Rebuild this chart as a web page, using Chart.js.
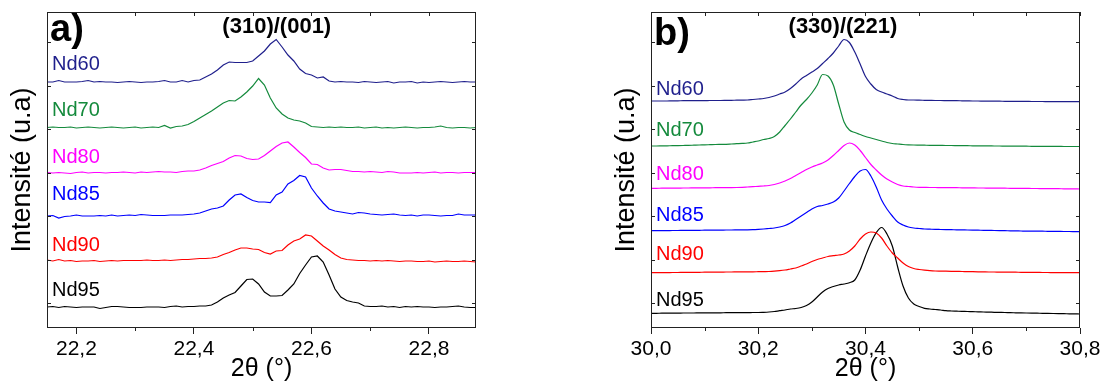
<!DOCTYPE html>
<html>
<head>
<meta charset="utf-8">
<script src="https://cdn.jsdelivr.net/npm/chart.js@4.4.1/dist/chart.umd.min.js"></script>
<style>
  html, body { margin: 0; padding: 0; background: #fff; }
  #wrap { position: relative; width: 1105px; height: 385px; overflow: hidden; }
  #chartA { position: absolute; left: 0; top: 0; }
  #chartB { position: absolute; left: 560px; top: 0; }
</style>
</head>
<body>
<div id="wrap">
  <canvas id="chartA" width="500" height="385"></canvas>
  <canvas id="chartB" width="545" height="385"></canvas>
</div>
<script>
const sampleNames = ['Nd60', 'Nd70', 'Nd80', 'Nd85', 'Nd90', 'Nd95'];
const sampleColors = ['#1f1f8c', '#148a3c', '#ff00ff', '#0000ff', '#ff0000', '#000000'];

// a) (310)/(001) reflection, 2θ sampled every 0.01°
const twoThetaA = Array.from({ length: 74 }, (_, i) => +(22.15 + i * 0.01).toFixed(2));
const nd60A = [246, 246, 247.5, 246, 246, 246, 246.5, 247.5, 246, 246.5, 246, 246, 245.5, 246, 246.5, 246, 245.5, 246, 246, 246.5, 247.5, 246, 246, 247.5, 246,
  247.5, 248, 251, 254, 258, 263, 266, 265.5, 265.5, 265.5, 267, 272, 277, 284, 288.5, 281, 273, 267, 259, 254.5, 253, 250, 251, 247,
  246, 246.5, 246, 246, 245.5, 246.5, 246, 245.5, 246, 246.5, 245, 246, 246, 246.5, 245, 246, 245.5, 246, 246.5, 246, 245.5, 246, 246.5, 246, 246];
const nd70A = [200.5, 201, 200.5, 200.5, 201, 200, 200.5, 201, 200.5, 200, 200.5, 201, 200.5, 200, 200.5, 201, 200, 200.5, 201, 200.5, 202.5, 200, 201.5,
  202, 203.5, 206.5, 210, 213.5, 217, 221, 225, 227.5, 227, 231, 236, 242, 249.5, 243, 230, 220, 214, 210, 208, 207, 205, 201.5,
  201, 200.5, 201, 200.5, 201, 200.5, 200.5, 201, 200, 200.5, 201, 200, 200.5, 200, 200.5, 201, 200.5, 200, 200.5, 200.5, 201, 202, 200.5, 200, 200.5, 200.5, 200, 200.5];
const nd80A = [155.5, 155, 155.5, 155, 154.5, 155.5, 156, 155, 155.5, 155.5, 155, 155.5, 155.5, 156, 155.5, 155, 156, 155.5, 156, 156.5, 156, 156, 155.5,
  156.5, 157, 157, 158, 160, 162.5, 164.5, 166.5, 170, 172.5, 172, 169.5, 168.5, 169, 172.5, 177, 181.5, 185, 186, 181, 175.5, 170.5, 164, 163.5, 160, 158, 158.5, 158.5, 157.5,
  156.5, 156.5, 156, 156.5, 156, 155.5, 156.5, 156, 155, 155, 155, 155.5, 155, 155.5, 156, 155, 155.5, 155.5, 155, 155.5, 155.5, 155.5];
const nd85A = [112, 112.5, 110, 111.5, 112, 113, 112, 112, 112, 112.5, 112, 113, 112, 112.5, 113, 112.5, 113.5, 113, 112.5, 112.5, 112.5, 113, 113, 113, 113.5,
  114, 115, 117, 119, 120, 122, 128, 133, 134, 130.5, 127.5, 126, 126, 125.5, 133, 136, 144, 147.5, 152.5, 151, 140, 132, 125, 119, 117, 116, 115, 114, 115.5, 115,
  114, 113.5, 113, 113.5, 114, 113, 112.5, 113, 112, 113, 113, 112.5, 112, 112.5, 112.5, 114, 113, 113, 113];
const nd90A = [68, 67, 68.5, 67, 67.5, 66.5, 67, 67, 67.5, 66.5, 67, 67.5, 67, 67.5, 67.5, 67.5, 67.5, 68, 67.5, 67.5, 68, 67.5, 68, 68.5, 68.5, 69, 69.5, 69.5, 70,
  71, 73.5, 75.5, 78, 80, 80, 79, 78.5, 75.5, 74, 77, 77.5, 83, 87, 89, 93, 92, 87, 82, 78, 73.5, 70, 68.5,
  68, 67.5, 67.5, 67, 67.5, 67, 67.5, 67, 66.5, 67, 67, 66.5, 66.5, 67, 66, 66.5, 67, 66.5, 66.5, 67, 66.5, 66];
const nd95A = [21, 21.5, 20.5, 21.5, 21, 20.5, 21, 21, 21, 19.5, 20.5, 21.5, 21.5, 21, 20.5, 20.5, 20.5, 21, 21, 21, 20.5, 21.5, 22, 21, 21.5, 21.5, 22, 22, 23,
  26, 30, 33, 35.5, 42, 48.5, 49, 44, 36, 32, 32, 32.5, 38, 44, 54.5, 63, 71, 72, 66, 53, 39, 31, 27.5, 26, 25, 22,
  21.5, 21.5, 22, 21, 21.5, 20.5, 21.5, 21, 21.5, 21, 21, 20.5, 21, 21, 21.5, 22, 21, 20.5, 20.5];

// b) (330)/(221) reflection
const twoThetaB = Array.from({ length: 81 }, (_, i) => +(30 + i * 0.01).toFixed(2));
const nd60B = [227, 227, 227, 227, 227.2, 227.2, 227.3, 227.3, 227.3, 227.4, 227.4, 227.5, 227.5, 227.5, 227.6, 227.7, 227.8, 227.9,
  228, 228.5, 229, 229.5, 230.5, 232, 234, 236, 239.5, 244, 249, 252.5, 256, 259.5, 264.5, 269.5, 275, 282, 288.5, 285.5, 276, 264, 251.5, 244, 238.5, 236, 234, 232, 229.5, 228.5, 228, 228,
  227.8, 227.7, 227.6, 227.5, 227.5, 227.4, 227.3, 227.3, 227.2, 227.1, 227, 227, 226.9, 226.9, 226.8, 226.8, 226.7, 226.7, 226.6, 226.6, 226.6, 226.5, 226.5, 226.5, 226.4, 226.4, 226.4, 226.3, 226.3, 226.3, 226.3];
const nd70B = [182, 182, 182.1, 182.2, 182.3, 182.4, 182.5, 182.6, 182.8, 183, 183.1, 183.3, 183.5, 183.6,
  183.7, 184, 184.3, 184.6, 185, 186, 187, 188.5, 189.5, 191.5, 196, 202.5, 209, 216, 223, 228.5, 235, 243, 253.5, 252, 243, 224, 206, 198, 195.5, 193.5, 191.5, 190, 188.5, 187, 185.5, 184.5, 184, 183.5, 183.2, 183,
  182.9, 182.8, 182.7, 182.7, 182.6, 182.5, 182.5, 182.4, 182.3, 182.3, 182.2, 182.2, 182.1, 182.1, 182, 182, 181.9, 181.9, 181.8, 181.8, 181.8, 181.7, 181.7, 181.7, 181.6, 181.6, 181.6, 181.5, 181.5, 181.5, 181.5];
const nd80B = [139.7, 139.7, 139.8, 139.8, 139.9, 139.9, 140, 140, 140.1, 140.1, 140.2, 140.2, 140.3, 140.3, 140.4, 140.4, 140.5, 140.7, 141, 141.3, 141.7, 142, 142.5,
  143.5, 145, 147, 149.5, 152.5, 155.5, 158.5, 161, 163, 165, 168, 172.5, 177.5, 182.5, 185, 183, 177.5, 170.5, 163.5, 158, 153, 149, 146, 143.5, 142, 141.5, 141, 140.7,
  140.6, 140.5, 140.5, 140.4, 140.4, 140.3, 140.3, 140.2, 140.2, 140.1, 140, 140, 139.9, 139.9, 139.8, 139.8, 139.7, 139.7, 139.6, 139.6, 139.5, 139.5, 139.4, 139.4, 139.3, 139.3, 139.2, 139.2, 139.1, 139];
const nd85B = [97.3, 97.3, 97.4, 97.4, 97.5, 97.5, 97.6, 97.6, 97.7, 97.7, 97.8, 97.8, 97.9, 97.9, 98, 98, 98.1, 98.2, 98.2, 98.3, 98.6, 99, 99.5,
  100, 101, 102.5, 105, 108.5, 112, 115.5, 119, 121.5, 122.5, 124, 126, 130, 137, 144.5, 151.5, 157, 158.5, 152, 141, 128, 119, 112, 106, 103, 101, 100, 99.5, 99,
  98.8, 98.6, 98.5, 98.4, 98.3, 98.2, 98.1, 98, 97.9, 97.8, 97.7, 97.6, 97.5, 97.4, 97.3, 97.2, 97.1, 97, 96.9, 96.9, 96.8, 96.8, 96.7, 96.7, 96.6, 96.5, 96.5, 96.4, 96.3];
const nd90B = [55.3, 55.3, 55.4, 55.4, 55.5, 55.5, 55.6, 55.6, 55.7, 55.7, 55.8, 55.8, 55.9, 55.9, 56, 56, 56.1, 56.1, 56.2, 56.2, 56.3, 56.4, 56.5,
  56.8, 57.3, 58, 59, 60, 62, 64, 66.5, 68.5, 70, 71.5, 72.3, 73, 74, 77, 82, 89, 94, 96, 95, 90, 82, 75, 70, 65, 61.5, 59.5, 58.5, 57.8, 57.3,
  57, 56.9, 56.8, 56.7, 56.6, 56.5, 56.4, 56.3, 56.2, 56.1, 56, 56, 55.9, 55.9, 55.8, 55.8, 55.7, 55.7, 55.6, 55.6, 55.5, 55.5, 55.4, 55.4, 55.4, 55.3, 55.3, 55.3];
const nd95B = [14.7, 14.7, 14.8, 14.8, 14.9, 14.9, 15, 15, 15, 15.1, 15.1, 15.2, 15.2, 15.2, 15.3, 15.3, 15.3, 15.4, 15.4, 15.5, 15.5,
  15.7, 16, 16.5, 17.3, 18, 19, 19.5, 20.5, 22.5, 26, 31, 36, 39.5, 41.5, 43, 44, 45.3, 48, 58, 72, 85, 95.3, 100.5, 94, 82, 61, 42, 30, 24, 21.5, 19.7, 19, 18.5, 18, 17.3,
  17, 16.8, 16.6, 16.5, 16.3, 16.2, 16, 15.9, 15.7, 15.6, 15.5, 15.3, 15.2, 15.1, 15, 14.9, 14.8, 14.7, 14.6, 14.5, 14.4, 14.3, 14.2, 14.1, 14];

// axis ticks
const majorTicksA = [22.2, 22.4, 22.6, 22.8];
const tickLabelsA = ['22,2', '22,4', '22,6', '22,8'];
const minorTicksA = [22.3, 22.5, 22.7];
const majorTicksB = [30.0, 30.2, 30.4, 30.6, 30.8];
const tickLabelsB = ['30,0', '30,2', '30,4', '30,6', '30,8'];
const minorTicksB = [30.1, 30.3, 30.5, 30.7];
const frameTicksY = [25, 68.5, 112, 155.5, 199, 242.5, 286];

// where the sample names sit (intensity units)
const labelYA = [264, 217.5, 171, 134, 82.5, 37.5];
const labelYB = [239, 198, 153.5, 112.5, 73.5, 28];

const FONT = '"Liberation Sans", Arial, sans-serif';
Chart.defaults.font.family = FONT;
Chart.defaults.color = '#000';

const panelDecor = {
  id: 'panelDecor',
  afterDraw(chart, args, opts) {
    const { ctx, chartArea: area } = chart;
    const x = chart.scales.x, y = chart.scales.y;
    ctx.save();

    // frame with inward ticks (top, left, right), short minor ticks below
    ctx.strokeStyle = '#222';
    ctx.lineWidth = 1;
    ctx.strokeRect(area.left + 0.5, area.top + 0.5, area.right - area.left - 1, area.bottom - area.top - 1);
    ctx.beginPath();
    opts.majors.concat(opts.minors).forEach(v => {
      const px = Math.round(x.getPixelForValue(v)) + 0.5;
      ctx.moveTo(px, area.top);
      ctx.lineTo(px, area.top + 4);
    });
    opts.minors.forEach(v => {
      const px = Math.round(x.getPixelForValue(v)) + 0.5;
      ctx.moveTo(px, area.bottom);
      ctx.lineTo(px, area.bottom + 3);
    });
    frameTicksY.forEach(v => {
      const py = Math.round(y.getPixelForValue(v)) + 0.5;
      ctx.moveTo(area.left, py);
      ctx.lineTo(area.left + 4, py);
      ctx.moveTo(area.right, py);
      ctx.lineTo(area.right - 4, py);
    });
    ctx.stroke();

    // sample names
    ctx.font = '20px ' + FONT;
    ctx.textAlign = 'left';
    ctx.textBaseline = 'middle';
    sampleNames.forEach((name, i) => {
      ctx.fillStyle = sampleColors[i];
      ctx.fillText(name, x.getPixelForValue(opts.labelX), y.getPixelForValue(opts.labelY[i]));
    });

    // reflection indices and panel letter
    ctx.fillStyle = '#000';
    ctx.font = 'bold 22px ' + FONT;
    ctx.textAlign = 'center';
    ctx.fillText(opts.reflection, x.getPixelForValue(opts.reflectionX), y.getPixelForValue(301));
    ctx.font = 'bold 38px ' + FONT;
    ctx.textAlign = 'left';
    ctx.textBaseline = 'alphabetic';
    ctx.fillText(opts.tag, area.left + 3, area.top + opts.tagDrop);
    ctx.restore();
  }
};

function buildDatasets(xs, series, smooth) {
  return series.map((ys, i) => ({
    label: sampleNames[i],
    data: xs.map((x, j) => ({ x: x, y: ys[j] })),
    borderColor: sampleColors[i],
    borderWidth: 1.2,
    pointRadius: 0,
    fill: false,
    tension: smooth ? 0.4 : 0,
    cubicInterpolationMode: smooth ? 'monotone' : 'default'
  }));
}

function makePanel(canvasId, p) {
  new Chart(document.getElementById(canvasId), {
    type: 'line',
    data: { datasets: buildDatasets(p.xs, p.series, p.smooth) },
    plugins: [panelDecor],
    options: {
      responsive: false,
      animation: false,
      events: [],
      layout: { padding: { top: 12, right: p.padRight, left: 0, bottom: 0 } },
      plugins: {
        legend: { display: false },
        tooltip: { enabled: false },
        panelDecor: {
          majors: p.majors,
          minors: p.minors,
          labelX: p.labelX,
          labelY: p.labelY,
          reflection: p.reflection,
          reflectionX: p.reflectionX,
          tag: p.tag,
          tagDrop: p.tagDrop
        }
      },
      scales: {
        x: {
          type: 'linear',
          min: p.min,
          max: p.max,
          afterBuildTicks: s => { s.ticks = p.majors.map(v => ({ value: v })); },
          afterFit: s => { s.height = 57; },
          ticks: {
            autoSkip: false,
            maxRotation: 0,
            padding: 3,
            font: { size: 21 },
            callback: (v, i) => p.labels[i]
          },
          grid: { drawOnChartArea: false, tickLength: 6, color: '#222' },
          border: { display: false },
          title: {
            display: true,
            text: '2θ (°)',
            font: { size: 25, lineHeight: 1 },
            padding: { top: 0, bottom: 3.5 }
          }
        },
        y: {
          min: 0,
          max: 316,
          afterFit: s => { s.width = p.yWidth; },
          ticks: { display: false },
          grid: { display: false },
          border: { display: false },
          title: {
            display: true,
            text: 'Intensité (u.a)',
            font: { size: 27, lineHeight: 1 },
            padding: { top: p.yTitlePad, bottom: 0 }
          }
        }
      }
    }
  });
}

makePanel('chartA', {
  xs: twoThetaA,
  series: [nd60A, nd70A, nd80A, nd85A, nd90A, nd95A],
  smooth: false,
  min: 22.15, max: 22.88,
  majors: majorTicksA, labels: tickLabelsA, minors: minorTicksA,
  padRight: 24, yWidth: 47, yTitlePad: 9.5,
  labelX: 22.1585, labelY: labelYA,
  reflection: '(310)/(001)', reflectionX: 22.541,
  tag: 'a)', tagDrop: 29
});

makePanel('chartB', {
  xs: twoThetaB,
  series: [nd60B, nd70B, nd80B, nd85B, nd90B, nd95B],
  smooth: true,
  min: 30.0, max: 30.8,
  majors: majorTicksB, labels: tickLabelsB, minors: minorTicksB,
  padRight: 25, yWidth: 91, yTitlePad: 53.5,
  labelX: 30.0093, labelY: labelYB,
  reflection: '(330)/(221)', reflectionX: 30.358,
  tag: 'b)', tagDrop: 33
});
</script>
</body>
</html>
